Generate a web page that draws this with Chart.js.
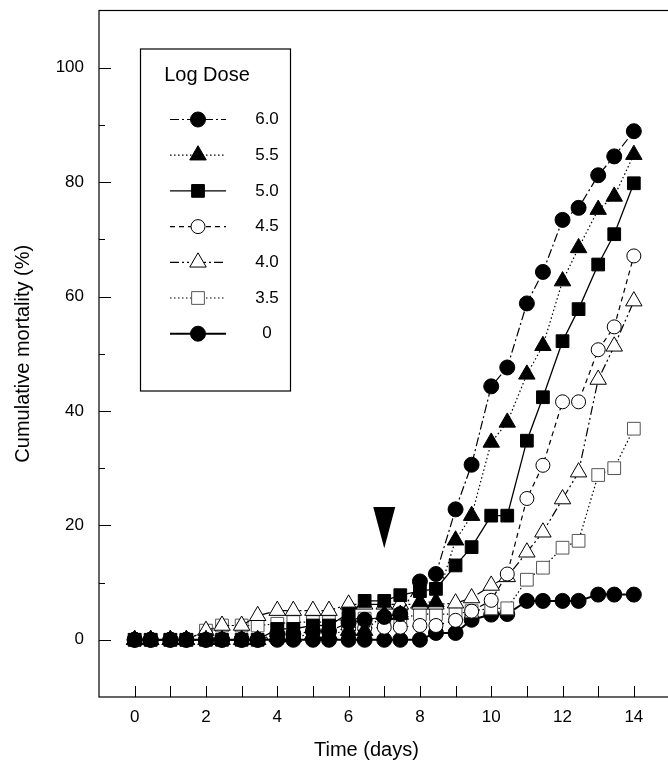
<!DOCTYPE html>
<html>
<head>
<meta charset="utf-8">
<title>Cumulative mortality by log dose</title>
<script src="https://cdn.jsdelivr.net/npm/chart.js@4.4.1/dist/chart.umd.min.js"></script>
<style>
  html, body { margin: 0; padding: 0; background: #fff; overflow: hidden; }
  #wrap { width: 680px; height: 773px; }
</style>
</head>
<body>
<div id="wrap"><canvas id="mortality-chart" width="680" height="773"></canvas></div>
<script>
// Sampling times (days) - two readings per day
const times = [0, 0.45, 1, 1.45, 2, 2.45, 3, 3.45, 4, 4.45, 5, 5.45, 6, 6.45, 7, 7.45,
  8, 8.45, 9, 9.45, 10, 10.45, 11, 11.45, 12, 12.45, 13, 13.45, 14];

// Cumulative mortality (%) for each log dose
const dose60 = [0, 0, 0, 0, 0, 0, 0, 0, 1, 1, 1.5, 1.5, 3, 3.5, 4, 4.5,
  10.2, 11.5, 22.8, 30.6, 44.3, 47.6, 58.8, 64.3, 73.4, 75.5, 81.2, 84.5, 88.9];
const dose55 = [0, 0, 0, 0, 0, 0, 0, 0, 0.5, 0.5, 1, 1, 1.6, 1.6, 4.4, 4.4,
  6.6, 6.6, 17.4, 21.7, 34.5, 38, 46.4, 51.4, 62.7, 68.5, 75.2, 77.5, 84.8];
const dose50 = [0, 0, 0, 0, 0, 0, 0, 0, 1.9, 1.9, 2.5, 2.5, 4.6, 6.8, 6.8, 7.8,
  8.5, 8.9, 13, 16.2, 21.7, 21.7, 34.8, 42.4, 52.2, 57.8, 65.6, 70.9, 79.8];
const dose45 = [0, 0, 0, 0, 0, 0, 0, 0, 1, 1, 1.5, 1.5, 2, 2, 2.2, 2.2,
  2.5, 2.5, 3.4, 5, 6.9, 11.5, 24.7, 30.5, 41.6, 41.6, 50.7, 54.7, 67.1];
const dose40 = [0, 0, 0, 0, 1.6, 2.5, 2.5, 4.2, 5.1, 5.1, 5.1, 5.1, 6.2, 6.2, 6.2, 6.2,
  6.2, 6.2, 6.4, 7.3, 9.5, 11, 15.3, 18.8, 24.6, 29.3, 45.5, 51.3, 59.2];
const dose35 = [0, 0, 0, 0, 1.6, 2.5, 2.5, 2.5, 2.8, 3.1, 3.1, 3.1, 3.7, 3.7, 3.7, 3.7,
  4.5, 4.5, 4.5, 5, 5.5, 5.5, 10.5, 12.6, 16.1, 17.3, 28.8, 30, 36.9];
const dose0 = [0, 0, 0, 0, 0, 0, 0, 0, 0, 0, 0, 0, 0, 0, 0, 0,
  0, 1.2, 1.2, 3.5, 4.4, 4.5, 6.8, 6.8, 6.8, 6.8, 7.9, 7.9, 7.9];

const doseLabels = ["6.0", "5.5", "5.0", "4.5", "4.0", "3.5", "0"];
const doseValues = [dose60, dose55, dose50, dose45, dose40, dose35, dose0];

// Axis ticks
const xTickLabels = [0, 2, 4, 6, 8, 10, 12, 14];
const dayTicks = [0, 1, 2, 3, 4, 5, 6, 7, 8, 9, 10, 11, 12, 13, 14];
const yTickLabels = [0, 20, 40, 60, 80, 100];
const yMinorTicks = [10, 30, 50, 70, 90];

// Arrowhead marker (day, top value, tip value)
const arrowDay = 7;
const arrowTop = 23.2;
const arrowTip = 16;

// Marker / line look for each dose, same order as doseLabels
const seriesStyles = [
  { pointStyle: "circle", radius: 7.5, fill: "#000", border: "#000", dash: [9, 3, 2, 3], width: 1.2 },
  { pointStyle: "triangle", radius: 9.5, fill: "#000", border: "#000", dash: [1.5, 2.5], width: 1.2 },
  { pointStyle: "rect", radius: 9, fill: "#000", border: "#000", dash: [], width: 1.3 },
  { pointStyle: "circle", radius: 7, fill: "#fff", border: "#000", dash: [5, 4], width: 1.2 },
  { pointStyle: "triangle", radius: 9.5, fill: "#fff", border: "#000", dash: [9, 3, 2, 3, 2, 3], width: 1.2 },
  { pointStyle: "rect", radius: 9, fill: "#fff", border: "#555", dash: [1.5, 2.5], width: 1.2 },
  { pointStyle: "circle", radius: 7.5, fill: "#000", border: "#000", dash: [], width: 2 },
];

const fontFamily = "'Liberation Sans', Arial, Helvetica, sans-serif";

function buildDatasets() {
  let result = [];
  for (let i = 0; i < doseLabels.length; i++) {
    const s = seriesStyles[i];
    result.push({
      label: doseLabels[i],
      data: times.map((t, j) => ({ x: t, y: doseValues[i][j] })),
      borderColor: "#000",
      borderWidth: s.width,
      borderDash: s.dash,
      pointStyle: s.pointStyle,
      pointRadius: s.radius,
      pointBackgroundColor: s.fill,
      pointBorderColor: s.border,
      pointBorderWidth: 1,
      tension: 0,
      fill: false,
      clip: false,
    });
  }
  return result;
}

// Frame, inward tick marks, arrow, legend box and x title
const decorations = {
  id: "decorations",
  beforeDatasetsDraw(chart) {
    const { ctx, chartArea } = chart;
    const x = chart.scales.x;
    const y = chart.scales.y;
    ctx.save();
    ctx.strokeStyle = "#000";
    ctx.lineWidth = 1.2;
    ctx.strokeRect(chartArea.left, chartArea.top,
      chartArea.right - chartArea.left, chartArea.bottom - chartArea.top);
    ctx.lineWidth = 1;
    ctx.beginPath();
    dayTicks.forEach((d) => {
      const px = Math.round(x.getPixelForValue(d)) + 0.5;
      ctx.moveTo(px, chartArea.bottom);
      ctx.lineTo(px, chartArea.bottom - 11);
    });
    yTickLabels.forEach((v) => {
      const py = Math.round(y.getPixelForValue(v)) + 0.5;
      ctx.moveTo(chartArea.left, py);
      ctx.lineTo(chartArea.left + 12, py);
    });
    yMinorTicks.forEach((v) => {
      const py = Math.round(y.getPixelForValue(v)) + 0.5;
      ctx.moveTo(chartArea.left, py);
      ctx.lineTo(chartArea.left + 6, py);
    });
    ctx.stroke();

    // x axis title centred under the labelled span
    const cx = (x.getPixelForValue(x.min) + x.getPixelForValue(xTickLabels[xTickLabels.length - 1])) / 2;
    ctx.fillStyle = "#000";
    ctx.font = "20px " + fontFamily;
    ctx.textAlign = "center";
    ctx.textBaseline = "middle";
    ctx.fillText("Time (days)", cx, chartArea.bottom + 53);
    ctx.restore();
  },
  afterDatasetsDraw(chart) {
    const { ctx, chartArea } = chart;
    const x = chart.scales.x;
    const y = chart.scales.y;
    ctx.save();

    // arrow marking day 7
    const ax = x.getPixelForValue(arrowDay);
    ctx.fillStyle = "#000";
    ctx.beginPath();
    ctx.moveTo(ax - 11, y.getPixelForValue(arrowTop));
    ctx.lineTo(ax + 11, y.getPixelForValue(arrowTop));
    ctx.lineTo(ax, y.getPixelForValue(arrowTip));
    ctx.closePath();
    ctx.fill();

    // legend box
    const boxLeft = chartArea.left + 41;
    const boxTop = chartArea.top + 38;
    const boxW = 150;
    const boxH = 342;
    ctx.fillStyle = "#fff";
    ctx.fillRect(boxLeft, boxTop, boxW, boxH);
    ctx.strokeStyle = "#000";
    ctx.lineWidth = 1.2;
    ctx.strokeRect(boxLeft + 0.5, boxTop + 0.5, boxW, boxH);

    ctx.fillStyle = "#000";
    ctx.font = "20px " + fontFamily;
    ctx.textAlign = "center";
    ctx.textBaseline = "middle";
    ctx.fillText("Log Dose", boxLeft + 67, boxTop + 27);

    for (let i = 0; i < doseLabels.length; i++) {
      const s = seriesStyles[i];
      const ry = boxTop + 71 + i * 35.7;
      ctx.strokeStyle = "#000";
      ctx.lineWidth = s.width;
      ctx.setLineDash(s.dash);
      ctx.beginPath();
      ctx.moveTo(boxLeft + 30, ry);
      ctx.lineTo(boxLeft + 86, ry);
      ctx.stroke();
      ctx.setLineDash([]);
      ctx.fillStyle = s.fill;
      ctx.strokeStyle = s.border;
      ctx.lineWidth = 1;
      Chart.helpers.drawPoint(ctx, { pointStyle: s.pointStyle, radius: s.radius, rotation: 0, borderWidth: 1 },
        boxLeft + 58, ry);
      ctx.fillStyle = "#000";
      ctx.font = "17px " + fontFamily;
      ctx.fillText(doseLabels[i], boxLeft + 127, ry);
    }
    ctx.restore();
  },
};

const chart = new Chart(document.getElementById("mortality-chart"), {
  type: "line",
  data: { datasets: buildDatasets() },
  options: {
    responsive: false,
    animation: false,
    devicePixelRatio: 1,
    layout: { padding: { top: 8, right: 8, left: 0, bottom: 0 } },
    plugins: {
      legend: { display: false },
      tooltip: { enabled: false },
    },
    scales: {
      x: {
        type: "linear",
        min: -1,
        max: 15,
        grid: { display: false, drawTicks: false },
        border: { display: false },
        afterBuildTicks: (scale) => {
          scale.ticks = xTickLabels.map((v) => ({ value: v }));
        },
        afterFit: (scale) => {
          scale.height = 76;
          scale.paddingLeft = 0;
          scale.paddingRight = 0;
        },
        ticks: {
          color: "#000",
          padding: 10,
          maxRotation: 0,
          font: { size: 17, family: fontFamily },
        },
        title: { display: false },
      },
      y: {
        min: -10,
        max: 110,
        grid: { display: false, drawTicks: false },
        border: { display: false },
        afterBuildTicks: (scale) => {
          scale.ticks = yTickLabels.map((v) => ({ value: v }));
        },
        afterFit: (scale) => {
          scale.width = 99;
          scale.paddingTop = 0;
          scale.paddingBottom = 0;
        },
        ticks: {
          color: "#000",
          padding: 15,
          font: { size: 17, family: fontFamily },
        },
        title: {
          display: true,
          text: "Cumulative mortality (%)",
          color: "#000",
          font: { size: 20, family: fontFamily },
          padding: { top: 11, bottom: 0 },
        },
      },
    },
  },
  plugins: [decorations],
});
</script>
</body>
</html>
